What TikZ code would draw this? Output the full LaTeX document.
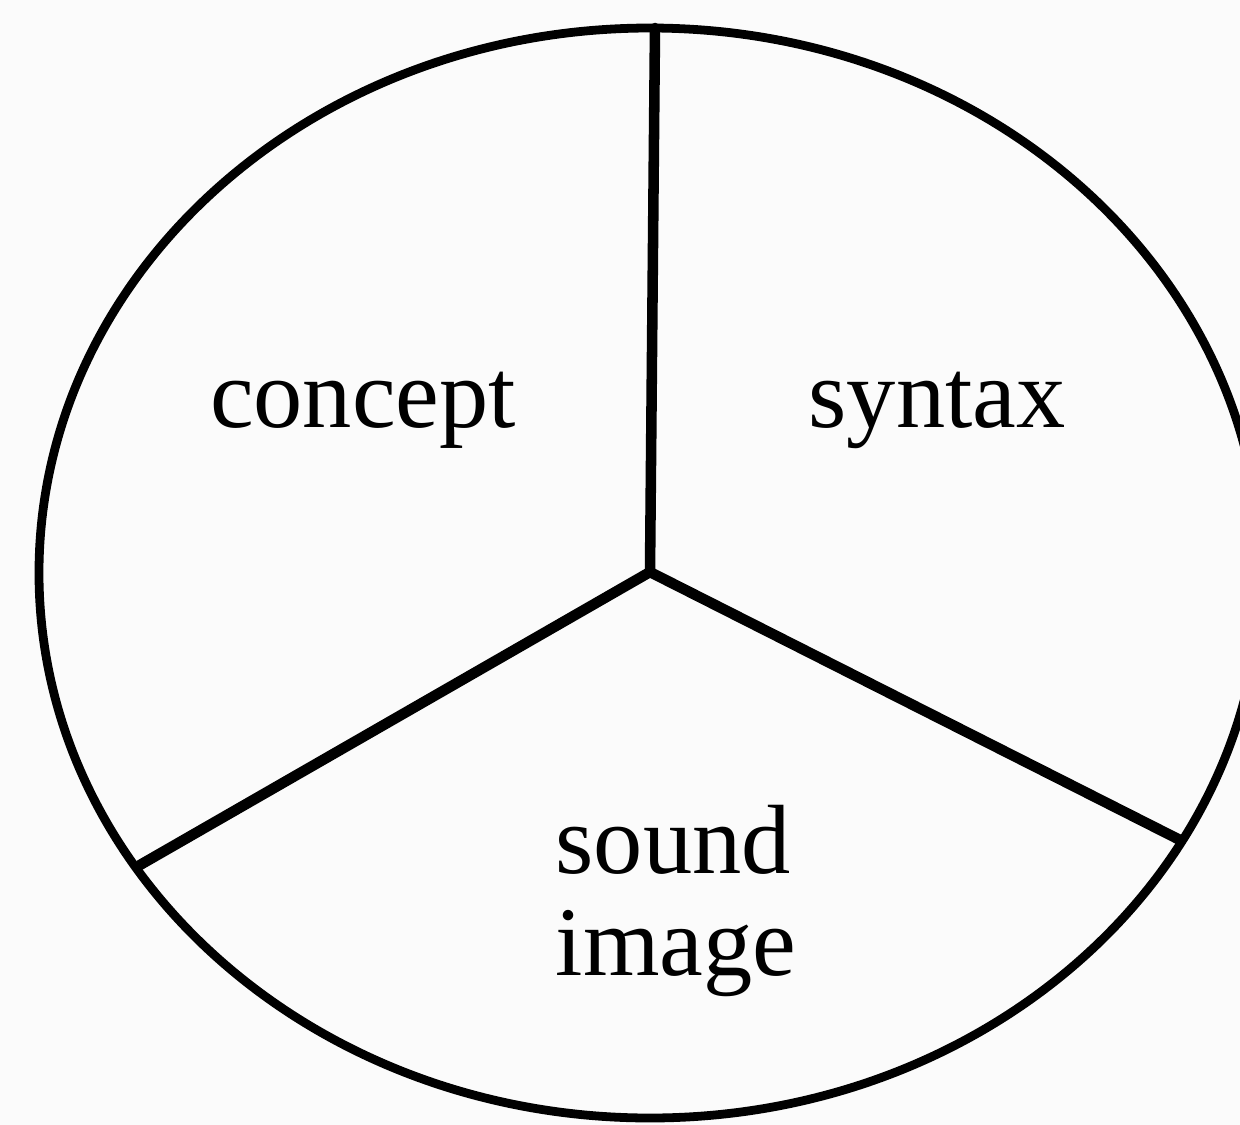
\documentclass[tikz,border=0pt]{standalone}
\usepackage{fontspec}
\setmainfont{Liberation Serif}
\begin{document}
\begin{tikzpicture}[
  rim/.style={line width=2.5pt},
  spoke/.style={line width=3pt, line cap=round},
  lbl/.style={font=\fontsize{28}{29}\selectfont, inner sep=0pt}
]
\fill[white!98.5!black] (0,0) rectangle (12.4,-11.25);
\useasboundingbox (0,0) rectangle (12.4,-11.25);
\clip (0,0) rectangle (12.4,-11.25);
\coordinate (c) at (6.50,-5.72);
\coordinate (top) at (6.55,-0.28);
\coordinate (ll) at (1.40,-8.65);
\coordinate (lr) at (11.80,-8.40);
\draw[rim] (6.50,-5.73) ellipse [x radius=6.11, y radius=5.45];
\draw[spoke] (c) -- (top);
\draw[spoke] (c) -- (ll);
\draw[spoke] (c) -- (lr);
\node[lbl, anchor=base] (concept) at (3.63,-4.27) {concept};
\node[lbl, anchor=base] (syntax) at (9.37,-4.27) {syntax};
\node[lbl, anchor=base west, align=left] (sound) at (5.55,-9.75) {sound\\image};
\end{tikzpicture}
\end{document}
